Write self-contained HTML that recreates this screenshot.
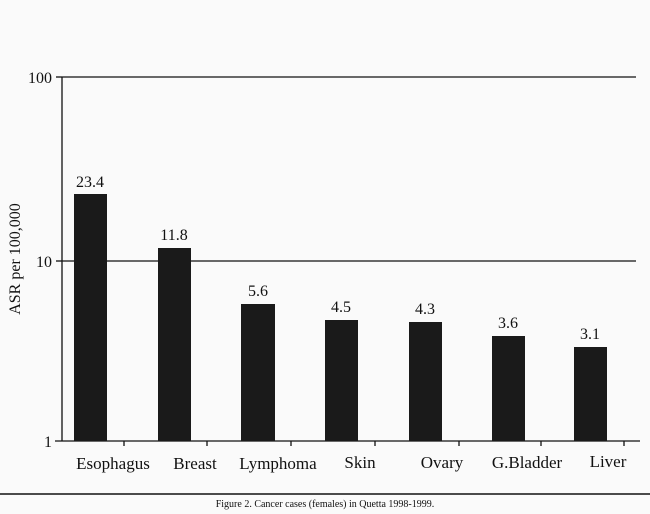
<!DOCTYPE html>
<html><head><style>
body{margin:0;background:#fff;}
svg{display:block;}
text{font-family:"Liberation Serif",serif;fill:#111;}
</style></head><body>
<svg width="650" height="514" viewBox="0 0 650 514">
<rect width="650" height="514" fill="#fafafa"/>
<g stroke="#111" stroke-width="1.3" fill="none">
<line x1="62" y1="77" x2="636" y2="77"/>
<line x1="62" y1="261" x2="636" y2="261"/>
<line x1="62" y1="77" x2="62" y2="441"/>
<line x1="55" y1="441" x2="640" y2="441"/>
<line x1="56" y1="77" x2="62" y2="77"/>
<line x1="56" y1="261" x2="62" y2="261"/>
<line x1="124" y1="441" x2="124" y2="446"/>
<line x1="207" y1="441" x2="207" y2="446"/>
<line x1="291" y1="441" x2="291" y2="446"/>
<line x1="375" y1="441" x2="375" y2="446"/>
<line x1="459" y1="441" x2="459" y2="446"/>
<line x1="541" y1="441" x2="541" y2="446"/>
<line x1="624" y1="441" x2="624" y2="446"/>
</g>
<line x1="0" y1="494" x2="650" y2="494" stroke="#111" stroke-width="1.5"/>
<g fill="#1a1a1a">
<rect x="74" y="194" width="33" height="247"/>
<rect x="158" y="248" width="33" height="193"/>
<rect x="241" y="304" width="34" height="137"/>
<rect x="325" y="320" width="33" height="121"/>
<rect x="409" y="322" width="33" height="119"/>
<rect x="492" y="336" width="33" height="105"/>
<rect x="574" y="347" width="33" height="94"/>
</g>
<g font-size="16" text-anchor="end">
<text x="52" y="83">100</text>
<text x="52" y="267">10</text>
<text x="52" y="447">1</text>
</g>
<text transform="translate(20,259) rotate(-90)" font-size="16" text-anchor="middle">ASR per 100,000</text>
<g font-size="16" text-anchor="middle">
<text x="90" y="187">23.4</text>
<text x="174" y="240">11.8</text>
<text x="258" y="296">5.6</text>
<text x="341" y="312">4.5</text>
<text x="425" y="314">4.3</text>
<text x="508" y="328">3.6</text>
<text x="590" y="339">3.1</text>
</g>
<g font-size="17" text-anchor="middle">
<text x="113" y="469">Esophagus</text>
<text x="195" y="469">Breast</text>
<text x="278" y="469">Lymphoma</text>
<text x="360" y="468">Skin</text>
<text x="442" y="468">Ovary</text>
<text x="527" y="468">G.Bladder</text>
<text x="608" y="467">Liver</text>
</g>
<text x="325" y="507" font-size="10" text-anchor="middle">Figure 2. Cancer cases (females) in Quetta 1998-1999.</text>
</svg>
</body></html>
